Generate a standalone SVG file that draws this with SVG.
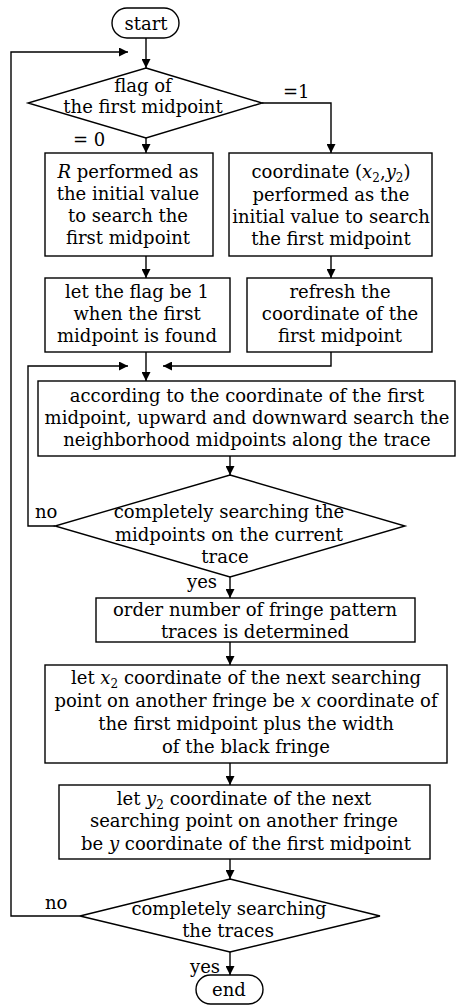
<svg xmlns="http://www.w3.org/2000/svg" width="456" height="1005" viewBox="0 0 456 1005">
<defs>
<marker id="arr" viewBox="0 0 10 10" refX="10" refY="5" markerWidth="9" markerHeight="9" markerUnits="userSpaceOnUse" orient="auto">
<path d="M0,0 L10,5 L0,10 z" fill="#000"/>
</marker>
<style>
.s{fill:#fff;stroke:#000;stroke-width:1.4}
.c{fill:none;stroke:#000;stroke-width:1.4;marker-end:url(#arr)}
text{font-family:"DejaVu Serif","Liberation Serif",serif;font-size:18px;fill:#000}
.m{text-anchor:middle}
.i{font-style:italic}
.sub{font-size:12px}
</style>
</defs>
<rect width="456" height="1005" fill="#fff"/>
<g id="connectors">
<path class="c" d="M146,38 V68"/>
<path class="c" d="M80,916 H11 V52 H128"/>
<path class="c" d="M146,138 V153"/>
<path class="c" d="M262,103 H331 V153"/>
<path class="c" d="M146,256 V278"/>
<path class="c" d="M331,256 V278"/>
<path class="c" d="M146,352 V381"/>
<path class="c" d="M331,352 V366 H163"/>
<path class="c" d="M55,526 H28 V366 H128"/>
<path class="c" d="M230,456 V475"/>
<path class="c" d="M230,577 V598"/>
<path class="c" d="M230,642 V665"/>
<path class="c" d="M230,763 V785"/>
<path class="c" d="M230,859 V879"/>
<path class="c" d="M230,952 V975"/>
<text x="283" y="98">=1</text>
<text x="73" y="146">= 0</text>
<text x="35" y="518">no</text>
<text x="187" y="588">yes</text>
<text x="45" y="909">no</text>
<text x="190" y="973">yes</text>
</g>
<g id="start">
<rect class="s" x="112" y="8" width="67" height="30" rx="15"/>
<text class="m" x="146" y="30">start</text>
</g>
<g id="flag">
<path class="s" d="M146,68 L262,103 L146,138 L28,103 z"/>
<text class="m" x="143" y="92">flag of</text>
<text class="m" x="143" y="113">the first midpoint</text>
</g>
<g id="initR">
<rect class="s" x="45" y="153" width="168" height="103"/>
<text class="m" x="128" y="178"><tspan class="i">R</tspan> performed as</text>
<text class="m" x="128" y="200">the initial value</text>
<text class="m" x="128" y="222">to search the</text>
<text class="m" x="128" y="244">first midpoint</text>
</g>
<g id="initXY">
<rect class="s" x="229" y="153" width="203" height="103"/>
<text class="m" x="331" y="178">coordinate (<tspan class="i">x</tspan><tspan class="sub" dy="4">2</tspan><tspan dy="-4">,</tspan><tspan class="i">y</tspan><tspan class="sub" dy="4">2</tspan><tspan dy="-4">)</tspan></text>
<text class="m" x="331" y="201">performed as the</text>
<text class="m" x="331" y="223">initial value to search</text>
<text class="m" x="331" y="245">the first midpoint</text>
</g>
<g id="setflag">
<rect class="s" x="45" y="278" width="185" height="74"/>
<text class="m" x="137" y="298">let the flag be 1</text>
<text class="m" x="137" y="320">when the first</text>
<text class="m" x="137" y="342">midpoint is found</text>
</g>
<g id="refresh">
<rect class="s" x="247" y="278" width="185" height="74"/>
<text class="m" x="340" y="298">refresh the</text>
<text class="m" x="340" y="320">coordinate of the</text>
<text class="m" x="340" y="342">first midpoint</text>
</g>
<g id="search">
<rect class="s" x="38" y="381" width="417" height="75"/>
<text class="m" x="247" y="402">according to the coordinate of the first</text>
<text class="m" x="247" y="424">midpoint, upward and downward search the</text>
<text class="m" x="247" y="446">neighborhood midpoints along the  trace</text>
</g>
<g id="checkTrace">
<path class="s" d="M230,475 L405,526 L230,577 L55,526 z"/>
<text class="m" x="229" y="518">completely searching the</text>
<text class="m" x="229" y="541">midpoints on the current</text>
<text class="m" x="225" y="563">trace</text>
</g>
<g id="order">
<rect class="s" x="96" y="598" width="319" height="44"/>
<text class="m" x="255" y="616">order number of fringe pattern</text>
<text class="m" x="255" y="638">traces is determined</text>
</g>
<g id="setx">
<rect class="s" x="45" y="665" width="402" height="98"/>
<text class="m" x="246" y="684">let <tspan class="i">x</tspan><tspan class="sub" dy="4">2</tspan><tspan dy="-4"> coordinate of the next searching</tspan></text>
<text class="m" x="246" y="707">point on another fringe be <tspan class="i">x</tspan> coordinate of</text>
<text class="m" x="246" y="730">the first midpoint plus the width</text>
<text class="m" x="246" y="753">of the black fringe</text>
</g>
<g id="sety">
<rect class="s" x="59" y="785" width="371" height="74"/>
<text class="m" x="244" y="805">let <tspan class="i">y</tspan><tspan class="sub" dy="4">2</tspan><tspan dy="-4"> coordinate of the next</tspan></text>
<text class="m" x="244" y="827">searching point on another fringe</text>
<text class="m" x="246" y="850">be <tspan class="i">y</tspan> coordinate of  the first midpoint</text>
</g>
<g id="checkAll">
<path class="s" d="M230,879 L380,916 L230,952 L80,916 z"/>
<text class="m" x="229" y="915">completely searching</text>
<text class="m" x="228" y="937">the traces</text>
</g>
<g id="end">
<rect class="s" x="196" y="975" width="67" height="29" rx="14.5"/>
<text class="m" x="229" y="996">end</text>
</g>
</svg>
